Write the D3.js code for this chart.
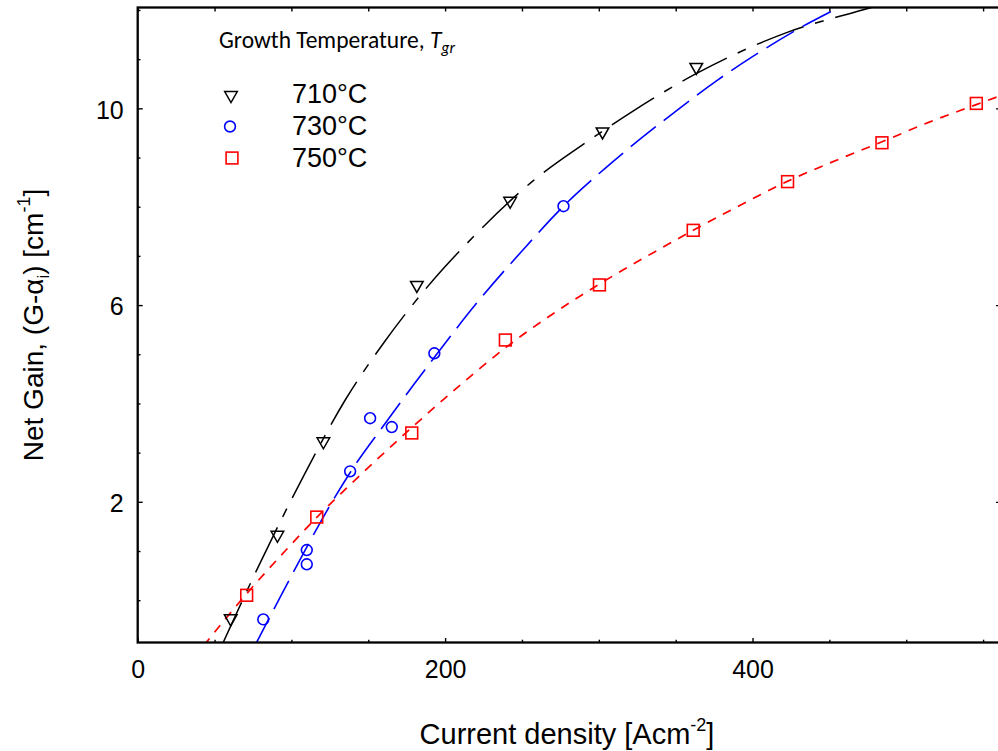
<!DOCTYPE html>
<html>
<head>
<meta charset="utf-8">
<script src="https://cdn.jsdelivr.net/npm/d3@7"></script>
<style>
  html, body { margin: 0; padding: 0; background: #fff; }
  svg { display: block; }
  text { font-family: "Liberation Sans", Arial, Helvetica, sans-serif; fill: #000; }
</style>
</head>
<body>
<svg id="chart" width="998" height="751"></svg>
<script>
// Measured net gain vs current density for three growth temperatures
const j710 = [60.5, 90.9, 120.8, 181.6, 242.3, 302.4, 363.4];
const g710 = [-0.41, 1.29, 3.19, 6.37, 8.08, 9.49, 10.80];

const j730 = [81.7, 110.0, 110.0, 138.2, 151.2, 165.3, 193.0, 277.0];
const g730 = [-0.39, 1.02, 0.73, 2.62, 3.70, 3.52, 5.02, 8.01];

const j750 = [70.9, 116.5, 178.3, 239.2, 300.4, 361.4, 422.8, 484.2, 545.6];
const g750 = [0.10, 1.69, 3.40, 5.29, 6.41, 7.52, 8.51, 9.30, 10.10];

// Fitted gain curves, sampled along each fit
const fitJ710 = [54, 80, 110, 135, 160, 192, 215, 257, 296, 321, 363, 397, 423, 475, 485];
const fitG710 = [-0.97, 0.78, 2.65, 4.07, 5.23, 6.50, 7.28, 8.52, 9.40, 9.92, 10.70, 11.22, 11.55, 12.03, 12.12];

const fitJ730 = [76, 95, 110, 125, 140, 160, 180, 195, 220, 250, 277, 300, 320, 350, 377, 400, 430, 456, 465];
const fitG730 = [-0.94, 0.20, 1.08, 1.92, 2.68, 3.55, 4.40, 5.02, 6.02, 7.10, 8.01, 8.67, 9.20, 9.94, 10.57, 11.05, 11.62, 12.05, 12.20];

const fitJ750 = [43, 70, 95, 117, 145, 178, 210, 240, 270, 300, 330, 362, 392, 423, 455, 485, 515, 546, 565];
const fitG750 = [-0.92, 0.10, 0.97, 1.70, 2.55, 3.50, 4.38, 5.15, 5.82, 6.42, 6.97, 7.53, 8.03, 8.52, 8.95, 9.33, 9.72, 10.08, 10.30];

const seriesLabels = ["710°C", "730°C", "750°C"];
const xMajorTicks = [0, 200, 400];
const xMinorTicks = [50, 100, 150, 250, 300, 350, 450, 500, 550];
const yMajorTicks = [2, 6, 10];
const yMinorTicks = [0, 1, 3, 4, 5, 7, 8, 9, 11, 12];

const svg = d3.select("#chart");
const plotLeft = 137.7, plotRight = 1000, plotTop = 7.5, plotBottom = 642.5;

const x = d3.scaleLinear().domain([0, 561]).range([plotLeft, plotRight]);
const y = d3.scaleLinear().domain([-0.86, 12.05]).range([plotBottom, plotTop]);

svg.append("defs").append("clipPath").attr("id", "plotClip")
  .append("rect").attr("x", plotLeft).attr("y", plotTop)
  .attr("width", plotRight - plotLeft).attr("height", plotBottom - plotTop);

// Fit curves
const fitLine = d3.line().x(d => x(d[0])).y(d => y(d[1])).curve(d3.curveMonotoneX);
const fits = [
  { j: fitJ710, g: fitG710, color: "#000000", dash: "50,12,9,12", w: 1.5 },
  { j: fitJ730, g: fitG730, color: "#0000ff", dash: "32,10", w: 1.6 },
  { j: fitJ750, g: fitG750, color: "#ff0000", dash: "9,8", w: 1.7 }
];
const fitGroup = svg.append("g").attr("clip-path", "url(#plotClip)");
fits.forEach(f => {
  fitGroup.append("path")
    .datum(d3.zip(f.j, f.g))
    .attr("d", fitLine)
    .attr("fill", "none")
    .attr("stroke", f.color)
    .attr("stroke-width", f.w)
    .attr("stroke-dasharray", f.dash);
});

// Marker shapes
const triDown = "M-6.3,-5.5L6.3,-5.5L0,5.5Z";
function drawTriangles(g, pts) {
  g.selectAll(null).data(pts).enter().append("path")
    .attr("d", triDown)
    .attr("transform", d => `translate(${x(d[0])},${y(d[1])})`)
    .attr("fill", "none").attr("stroke", "#000").attr("stroke-width", 1.5);
}
function drawCircles(g, pts) {
  g.selectAll(null).data(pts).enter().append("circle")
    .attr("cx", d => x(d[0])).attr("cy", d => y(d[1])).attr("r", 5.4)
    .attr("fill", "none").attr("stroke", "#0000ff").attr("stroke-width", 1.6);
}
function drawSquares(g, pts) {
  g.selectAll(null).data(pts).enter().append("rect")
    .attr("x", d => x(d[0]) - 5.9).attr("y", d => y(d[1]) - 5.9)
    .attr("width", 11.8).attr("height", 11.8)
    .attr("fill", "none").attr("stroke", "#ff0000").attr("stroke-width", 1.6);
}
const markGroup = svg.append("g");
drawTriangles(markGroup, d3.zip(j710, g710));
drawCircles(markGroup, d3.zip(j730, g730));
drawSquares(markGroup, d3.zip(j750, g750));

// Axes with inward ticks
const axisFont = 25;
const gx = svg.append("g").attr("transform", `translate(0,${plotBottom})`)
  .call(d3.axisBottom(x).tickValues(xMajorTicks).tickSize(-4.5).tickPadding(17.5).tickFormat(d3.format("d")));
const gxm = svg.append("g").attr("transform", `translate(0,${plotBottom})`)
  .call(d3.axisBottom(x).tickValues(xMinorTicks).tickSize(-2.8).tickFormat(""));
const gxt = svg.append("g").attr("transform", `translate(0,${plotTop})`)
  .call(d3.axisTop(x).tickValues(xMajorTicks.concat(xMinorTicks)).tickSize(-4).tickFormat(""));
const gy = svg.append("g").attr("transform", `translate(${plotLeft},0)`)
  .call(d3.axisLeft(y).tickValues(yMajorTicks).tickSize(-5).tickPadding(14).tickFormat(d3.format("d")));
const gym = svg.append("g").attr("transform", `translate(${plotLeft},0)`)
  .call(d3.axisLeft(y).tickValues(yMinorTicks).tickSize(-2.8).tickFormat(""));
const gyr = svg.append("g").attr("transform", `translate(${plotRight},0)`)
  .call(d3.axisRight(y).tickValues(yMajorTicks).tickSize(-4).tickFormat(""));

[gx, gxm, gxt, gy, gym, gyr].forEach(g => {
  g.select(".domain").remove();
  g.selectAll(".tick line").attr("stroke", "#000").attr("stroke-width", 1.4);
  g.selectAll(".tick text")
    .attr("font-family", "Liberation Sans, Arial, sans-serif")
    .attr("font-size", axisFont).attr("fill", "#000");
});
gy.selectAll(".tick text").attr("dy", "0.39em");

// Frame
svg.append("rect")
  .attr("x", plotLeft).attr("y", plotTop)
  .attr("width", plotRight - plotLeft).attr("height", plotBottom - plotTop)
  .attr("fill", "none").attr("stroke", "#000").attr("stroke-width", 2.3);

// Axis titles
const xt = svg.append("text")
  .attr("x", 567).attr("y", 744).attr("text-anchor", "middle")
  .attr("font-size", 29);
xt.append("tspan").text("Current density [Acm");
xt.append("tspan").attr("font-size", 18).attr("dy", -13).text("-2");
xt.append("tspan").attr("dy", 13).text("]");

const yt = svg.append("text")
  .attr("transform", "translate(43,325) rotate(-90)")
  .attr("text-anchor", "middle")
  .attr("font-size", 28);
yt.append("tspan").text("Net Gain, (G-α");
yt.append("tspan").attr("font-size", 17).attr("dy", 6).text("i");
yt.append("tspan").attr("dy", -6).text(") [cm");
yt.append("tspan").attr("font-size", 18).attr("dy", -13).text("-1");
yt.append("tspan").attr("dy", 13).text("]");

// Legend
const lt = svg.append("text")
  .attr("x", 219).attr("y", 48)
  .style("font-family", "Carlito, Calibri, Lato, 'Open Sans', sans-serif")
  .attr("font-size", 23.5);
lt.append("tspan").text("Growth Temperature, ");
lt.append("tspan").attr("font-style", "italic").text("T");
lt.append("tspan").attr("font-style", "italic").attr("font-size", 16).attr("dy", 5).text("gr");

const legendRows = [
  { label: seriesLabels[0], ty: 103, my: 97 },
  { label: seriesLabels[1], ty: 135, my: 126.5 },
  { label: seriesLabels[2], ty: 167, my: 158 }
];
const lg = svg.append("g");
lg.append("path").attr("d", triDown)
  .attr("transform", `translate(231,${legendRows[0].my})`)
  .attr("fill", "none").attr("stroke", "#000").attr("stroke-width", 1.5);
lg.append("circle").attr("cx", 230).attr("cy", legendRows[1].my).attr("r", 5.4)
  .attr("fill", "none").attr("stroke", "#0000ff").attr("stroke-width", 1.6);
lg.append("rect").attr("x", 232 - 5.9).attr("y", legendRows[2].my - 5.9)
  .attr("width", 11.8).attr("height", 11.8)
  .attr("fill", "none").attr("stroke", "#ff0000").attr("stroke-width", 1.6);
legendRows.forEach(r => {
  lg.append("text").attr("x", 292).attr("y", r.ty).attr("font-size", 27).text(r.label);
});
</script>
</body>
</html>
